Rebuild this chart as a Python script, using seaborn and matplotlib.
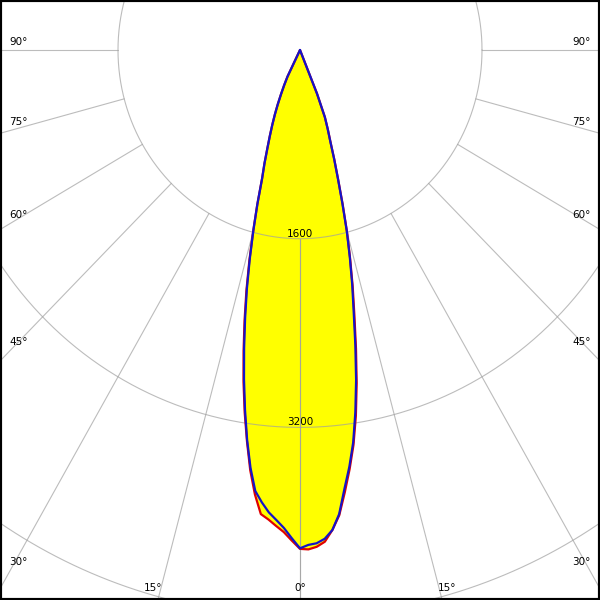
import numpy as np
import matplotlib
matplotlib.use("Agg")
import matplotlib.pyplot as plt
import seaborn as sns

# luminous intensity (cd) against gamma angle (deg from nadir)
gamma = list(range(0, 31)) + [40, 50, 60, 70, 80, 90]
c0 = [4225, 4197, 4185, 4150, 4080, 3950, 3740, 3560, 3360, 3110,
      2840, 2550, 2270, 2040, 1810, 1590, 1350, 1140, 970, 815,
      710, 610, 400, 0, 0, 0, 0, 0, 0, 0,
      0, 0, 0, 0, 0, 0, 0]
c180 = [4225, 4140, 4055, 3990, 3930, 3850, 3760, 3570, 3340, 3090,
        2835, 2575, 2320, 2075, 1825, 1585, 1360, 1140, 1010, 880,
        775, 680, 590, 500, 410, 330, 250, 0, 0, 0,
        0, 0, 0, 0, 0, 0, 0]
c90 = [4230, 4235, 4215, 4175, 4080, 3960, 3770, 3580, 3380, 3140,
       2870, 2580, 2300, 2060, 1820, 1595, 1360, 1145, 975, 820,
       715, 610, 400, 0, 0, 0, 0, 0, 0, 0,
       0, 0, 0, 0, 0, 0, 0]
c270 = [4230, 4160, 4090, 4040, 3990, 3950, 3790, 3590, 3350, 3110,
        2860, 2600, 2345, 2095, 1840, 1590, 1360, 1140, 1010, 880,
        775, 680, 590, 500, 410, 330, 250, 0, 0, 0,
        0, 0, 0, 0, 0, 0, 0]

rings = [1600, 3200, 4800]
ring_labels = ["1600", "3200"]
spokes = [0, 15, 30, 45, 60, 75, 90]

SX = 182.0 / 1600   # px per cd, horizontal
SY = 188.7 / 1600   # px per cd, vertical
CY = 50             # pixel row of the centre


def plane_xy(right, left):
    g = np.radians(np.array(gamma))
    r_right = np.array(right, dtype=float)
    r_left = np.array(left, dtype=float)
    x = np.concatenate([-(r_left * np.sin(g))[::-1], r_right * np.sin(g)])
    y = np.concatenate([-(r_left * np.cos(g))[::-1], -r_right * np.cos(g)])
    return x, y


sns.set_style("white")
plt.rcParams["font.family"] = ["DejaVu Sans"]

fig = plt.figure(figsize=(6, 6), dpi=100)
ax = fig.add_axes([0, 0, 1, 1])

xb, yb = plane_xy(c0, c180)
xr, yr = plane_xy(c90, c270)

ax.fill(xr, yr, color="#ffff00", lw=0, zorder=1)
ax.fill(xb, yb, color="#ffff00", lw=0, zorder=1)

# grid
grid_kw = dict(color="#a0a0a0", alpha=0.7, lw=0.8, zorder=2)
t = np.linspace(0, 2 * np.pi, 721)
for r in rings:
    ax.plot(r * np.cos(t), r * np.sin(t), **grid_kw)
for a in spokes:
    ar = np.radians(a)
    for s in (-1, 1):
        ax.plot([s * 1600 * np.sin(ar), s * 9000 * np.sin(ar)],
                [-1600 * np.cos(ar), -9000 * np.cos(ar)], **grid_kw)

sns.lineplot(x=xr, y=yr, sort=False, estimator=None, color="#e00000",
             lw=1.6, ax=ax, zorder=3)
sns.lineplot(x=xb, y=yb, sort=False, estimator=None, color="#1414c8",
             lw=1.6, ax=ax, zorder=4)

# angle labels (placed in pixel space)
fs = 7.5
tkw = dict(fontsize=fs, color="black", transform=ax.transAxes, zorder=5)
for a in spokes:
    ar = np.radians(a)
    if a <= 15:
        xe = 550 * np.tan(ar)
        for s in ((1,) if a == 0 else (-1, 1)):
            ax.text((300 + s * xe) / 600, 1 - 588 / 600, f"{a}°",
                    ha="center", va="center", **tkw)
    else:
        ye = CY + (300 / np.tan(ar) if a < 90 else 0.0) - 8
        ax.text(9 / 600, 1 - ye / 600, f"{a}°", ha="left", va="center", **tkw)
        ax.text(591 / 600, 1 - ye / 600, f"{a}°", ha="right", va="center",
                **tkw)
for r, lab in zip(rings, ring_labels):
    ax.text(0, -r + 5 / SY, lab, ha="center", va="center", fontsize=fs,
            color="black", zorder=5)

ax.set_xlim(-300 / SX, 300 / SX)
ax.set_ylim(-(600 - CY) / SY, CY / SY)
ax.set_aspect("auto")
ax.set_xticks([])
ax.set_yticks([])
ax.set_xlabel("")
ax.set_ylabel("")
for sp in ax.spines.values():
    sp.set_visible(True)
    sp.set_color("black")
    sp.set_linewidth(3)

fig.savefig("out.png", dpi=100)
